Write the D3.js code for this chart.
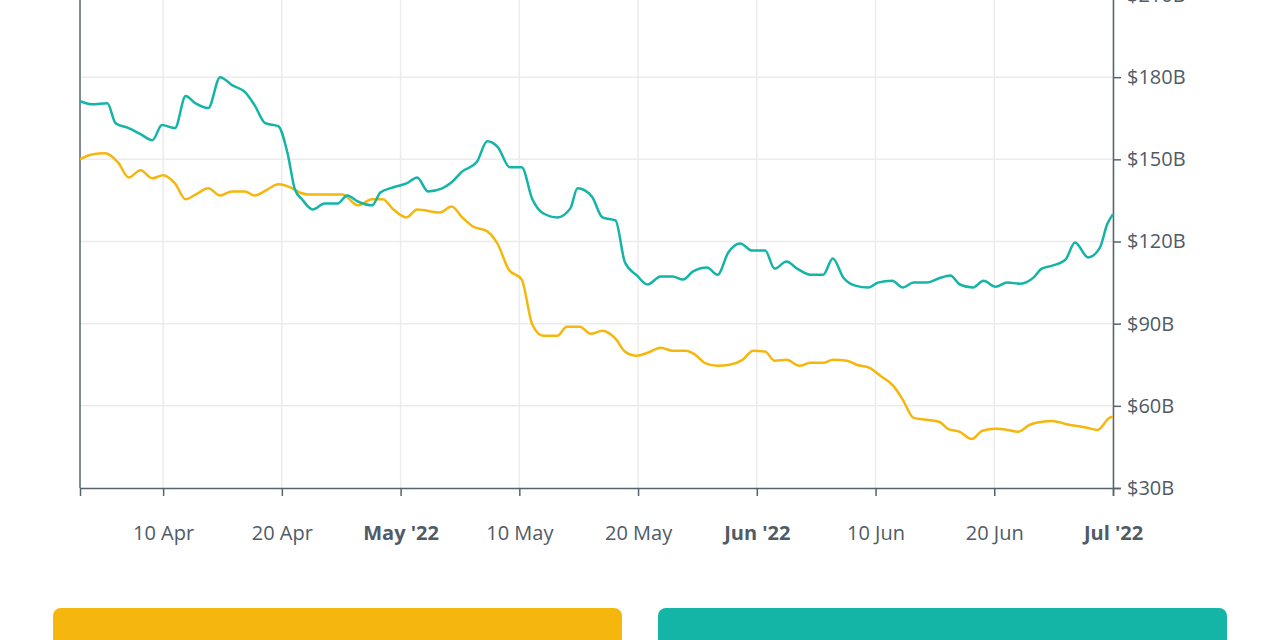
<!DOCTYPE html>
<html>
<head>
<meta charset="utf-8">
<script src="https://cdn.jsdelivr.net/npm/d3@7"></script>
<style>
  body { margin: 0; background: #fff; }
  svg { display: block; font-family: "Open Sans", sans-serif; }
</style>
</head>
<body>
<div class="chart"></div>
<script>
// x is in tick units: 0 = 10 Apr, 1 = 20 Apr, 2 = May '22 ... 8 = Jul '22
const tickLabels = ["10 Apr", "20 Apr", "May '22", "10 May", "20 May", "Jun '22", "10 Jun", "20 Jun", "Jul '22"];
const boldTicks = [2, 5, 8];
const yTicks = [30, 60, 90, 120, 150, 180, 210];

const tealX = [-0.70,-0.60,-0.47,-0.40,-0.29,-0.19,-0.09,-0.01,0.10,0.19,0.27,0.38,0.48,0.58,0.69,0.77,0.86,0.97,1.05,1.11,1.17,1.26,1.36,1.47,1.55,1.64,1.76,1.83,1.94,2.05,2.14,2.23,2.35,2.43,2.52,2.64,2.73,2.82,2.92,3.02,3.11,3.20,3.32,3.43,3.49,3.61,3.70,3.81,3.89,3.99,4.08,4.19,4.29,4.38,4.46,4.58,4.67,4.76,4.86,4.96,5.07,5.15,5.25,5.34,5.45,5.56,5.64,5.73,5.83,5.94,6.02,6.14,6.23,6.32,6.43,6.53,6.63,6.71,6.82,6.91,7.01,7.11,7.22,7.33,7.40,7.49,7.60,7.68,7.79,7.89,7.95,8.00];
const tealV = [171.2,170.1,170.5,163.2,161.4,159.2,157.0,162.5,161.4,173.1,170.5,168.7,180.0,177.1,174.5,169.8,163.2,162.1,151.8,139.0,135.4,131.7,133.9,133.9,136.8,134.6,133.2,137.9,139.8,141.2,143.4,138.3,139.4,141.6,145.6,148.9,156.6,154.4,147.1,147.1,135.4,130.3,128.8,132.1,139.4,136.5,128.8,127.7,112.3,107.6,104.3,107.2,107.2,106.1,109.0,110.5,107.9,116.0,119.3,116.7,116.7,110.1,112.7,110.1,107.9,107.9,113.8,106.8,103.9,103.2,105.0,105.7,103.2,105.0,105.0,106.5,107.6,104.3,103.2,105.7,103.5,105.0,104.6,106.8,110.1,111.2,113.4,119.6,114.2,117.8,126.2,130.0];

const orangeX = [-0.70,-0.60,-0.49,-0.38,-0.29,-0.19,-0.09,0.00,0.10,0.19,0.29,0.38,0.48,0.58,0.69,0.77,0.88,0.97,1.09,1.15,1.22,1.51,1.64,1.76,1.85,1.94,2.05,2.14,2.33,2.43,2.52,2.61,2.73,2.82,2.91,3.02,3.11,3.20,3.32,3.40,3.51,3.60,3.70,3.81,3.89,3.99,4.08,4.19,4.29,4.40,4.48,4.56,4.67,4.77,4.88,4.97,5.07,5.15,5.25,5.36,5.45,5.56,5.64,5.76,5.84,5.95,6.04,6.15,6.23,6.32,6.43,6.54,6.61,6.71,6.81,6.90,7.01,7.11,7.20,7.30,7.39,7.49,7.60,7.78,7.87,7.97,8.00];
const orangeV = [150.0,151.8,152.2,148.9,143.4,146.0,143.1,144.2,141.2,135.4,137.6,139.4,136.8,138.3,138.3,136.8,139.0,140.9,139.4,137.9,137.2,137.2,133.2,135.4,135.4,131.7,128.8,131.7,130.6,132.8,128.8,125.5,123.7,118.9,109.8,106.1,89.6,85.6,85.6,88.9,88.9,86.3,87.4,84.5,79.8,78.3,79.4,81.2,80.1,80.1,78.7,75.7,74.6,75.0,76.8,80.1,79.8,76.5,76.8,74.6,75.7,75.7,76.8,76.5,75.0,73.9,71.0,67.3,62.2,55.6,54.9,54.1,51.6,50.5,47.9,50.9,51.6,51.2,50.5,53.1,54.1,54.5,53.4,52.0,51.2,55.6,56.0];

const W = 1280, H = 640;
const plotLeft = 80, plotRight = 1113, plotTop = -5, plotBottom = 488;
const teal = "#14b4a6", orange = "#f5b70d";

const svg = d3.select(".chart").append("svg").attr("width", W).attr("height", H);

const x = d3.scaleLinear().domain([-0.7, 8]).range([plotLeft, plotRight]);
const y = d3.scaleLinear().domain([30, 210]).range([plotBottom, plotTop]);

// grid
svg.append("g").selectAll("line").data(yTicks.slice(1)).enter().append("line")
  .attr("x1", plotLeft).attr("x2", plotRight)
  .attr("y1", d => y(d)).attr("y2", d => y(d))
  .attr("stroke", "#ececec").attr("stroke-width", 1.5);
svg.append("g").selectAll("line").data(d3.range(tickLabels.length)).enter().append("line")
  .attr("x1", d => x(d)).attr("x2", d => x(d))
  .attr("y1", plotTop).attr("y2", plotBottom)
  .attr("stroke", "#ececec").attr("stroke-width", 1.5);

// axes
const yAxis = d3.axisRight(y).tickValues(yTicks).tickSize(8).tickPadding(6)
  .tickFormat(d => "$" + d + "B");
svg.append("g")
  .attr("transform", `translate(${plotRight},0)`)
  .call(yAxis)
  .call(g => g.selectAll("line, path").attr("stroke", "#57636e").attr("stroke-width", 1.5))
  .call(g => g.selectAll("text").attr("fill", "#4f5b66").style("font-size", "20px")
    .attr("font-family", "Open Sans"));

const xAxis = d3.axisBottom(x).tickValues(d3.range(tickLabels.length)).tickSize(8).tickPadding(30)
  .tickFormat(i => tickLabels[i]);
svg.append("g")
  .attr("transform", `translate(0,${plotBottom})`)
  .call(xAxis)
  .call(g => g.select(".domain").attr("stroke", "#57636e").attr("stroke-width", 1.5))
  .call(g => g.selectAll(".tick line").attr("stroke", "#57636e").attr("stroke-width", 1.5))
  .call(g => g.selectAll("text").attr("fill", "#4f5b66").style("font-size", "20px")
    .attr("font-family", "Open Sans")
    .attr("font-weight", i => boldTicks.includes(i) ? "bold" : "normal"));

svg.append("line")
  .attr("x1", plotLeft).attr("x2", plotLeft).attr("y1", plotTop).attr("y2", plotBottom)
  .attr("stroke", "#57636e").attr("stroke-width", 1.5);

// lines
const line = d3.line().x(d => x(d[0])).y(d => y(d[1])).curve(d3.curveMonotoneX);
svg.append("path").datum(d3.zip(orangeX, orangeV))
  .attr("d", line).attr("fill", "none").attr("stroke", orange).attr("stroke-width", 2.5);
svg.append("path").datum(d3.zip(tealX, tealV))
  .attr("d", line).attr("fill", "none").attr("stroke", teal).attr("stroke-width", 2.5);

// legend boxes
const boxes = [{c: orange, x0: 53, x1: 622}, {c: teal, x0: 658, x1: 1227}];
svg.selectAll(".box").data(boxes).enter().append("rect")
  .attr("x", d => d.x0).attr("y", 608).attr("width", d => d.x1 - d.x0).attr("height", 60)
  .attr("rx", 8).attr("fill", d => d.c);
</script>
</body>
</html>
